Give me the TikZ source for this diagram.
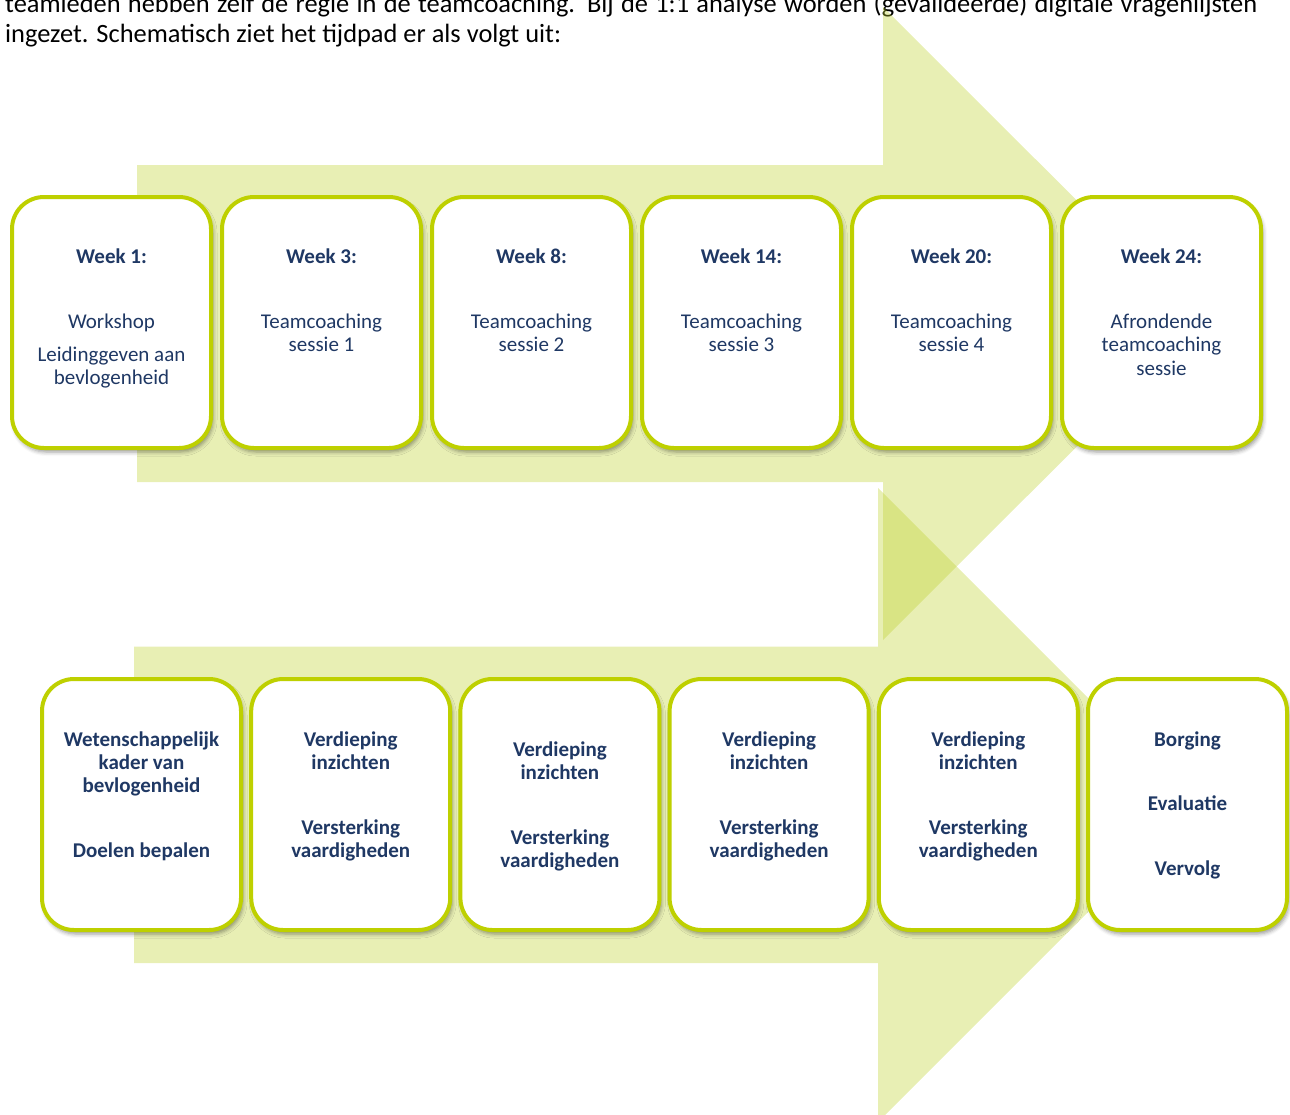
\documentclass[tikz,border=0pt]{standalone}
\usepackage{fontspec}
\setmainfont{Carlito}
\usetikzlibrary{positioning,shadows.blur}

\definecolor{arrowgreen}{RGB}{189,209,41}
\definecolor{cardline}{RGB}{190,208,0}
\definecolor{cardtext}{RGB}{31,56,100}

\tikzset{
  card/.style={draw=cardline, line width=4pt, fill=white, rounded corners=32pt,
    minimum width=199pt, minimum height=251pt, inner sep=0pt, outer sep=0pt,
    text width=190pt, align=flush center, text=cardtext,
    font=\fontsize{21}{23.5}\selectfont,
    text height=15pt, text depth=134pt,
    blur shadow={shadow xshift=2pt, shadow yshift=-4pt, shadow blur radius=4pt, shadow opacity=40}},
  lowcard/.style={card, text depth=132pt, font=\fontsize{21}{23}\selectfont\bfseries},
  band/.style={fill=arrowgreen, fill opacity=0.35},
  intro/.style={anchor=base west, inner sep=0pt, font=\fontsize{26.4}{30}\selectfont},
}

\begin{document}
\begin{tikzpicture}[x=1pt, y=-1pt, node distance=11pt]
    \useasboundingbox (0,0) rectangle (1290,1114);

    % Text above the chart
    \node[intro] (introa) at (5,12) {\makebox[1252pt][s]{teamleden hebben zelf de regie in de teamcoaching. Bij de 1:1 analyse worden (gevalideerde) digitale vragenlijsten}};
    \node[intro] (introb) at (5,42) {ingezet. Schematisch ziet het tijdpad er als volgt uit:};

    % Arrows behind the cards
    \fill[band] (137,165) -- (883,165) -- (883,7) -- (1200,323.5) -- (883,640) -- (883,482) -- (137,482) -- cycle;
    \fill[band] (134,646.5) -- (878,646.5) -- (878,488) -- (1195,805) -- (878,1122) -- (878,963) -- (134,963) -- cycle;

    % Weeks
    \node[card] (w1) at (111.5,322.5) {\textbf{Week 1:}\\[41.5pt] Workshop\\[9.5pt] Leidinggeven aan\\ bevlogenheid};
    \node[card, right=of w1] (w3) {\textbf{Week 3:}\\[41.5pt] Teamcoaching\\ sessie 1};
    \node[card, right=of w3] (w8) {\textbf{Week 8:}\\[41.5pt] Teamcoaching\\ sessie 2};
    \node[card, right=of w8] (w14) {\textbf{Week 14:}\\[41.5pt] Teamcoaching\\ sessie 3};
    \node[card, right=of w14] (w20) {\textbf{Week 20:}\\[41.5pt] Teamcoaching\\ sessie 4};
    \node[card, right=of w20] (w24) {\textbf{Week 24:}\\[41.5pt] Afrondende\\ teamcoaching\\ sessie};

    % Contents
    \node[lowcard] (c1) at (141.5,804.5) {Wetenschappelijk\\ kader van\\ bevlogenheid\\[42pt] Doelen bepalen};
    \node[lowcard, right=10.2pt of c1] (c2) {Verdieping\\ inzichten\\[42pt] Versterking\\ vaardigheden};
    \node[lowcard, right=10.2pt of c2, text depth=112pt] (c3) {Verdieping\\ inzichten\\[42pt] Versterking\\ vaardigheden};
    \node[lowcard, right=10.2pt of c3] (c4) {Verdieping\\ inzichten\\[42pt] Versterking\\ vaardigheden};
    \node[lowcard, right=10.2pt of c4] (c5) {Verdieping\\ inzichten\\[42pt] Versterking\\ vaardigheden};
    \node[lowcard, right=10.2pt of c5] (c6) {Borging\\[41pt] Evaluatie\\[42pt] Vervolg};
\end{tikzpicture}
\end{document}
